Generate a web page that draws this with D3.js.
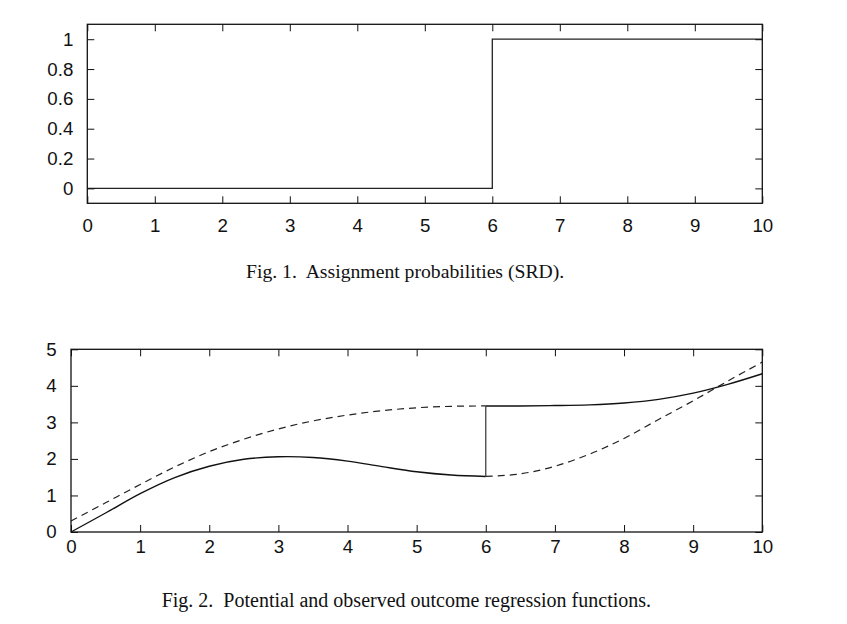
<!DOCTYPE html>
<html>
<head>
<meta charset="utf-8">
<script src="https://cdn.jsdelivr.net/npm/d3@7"></script>
<style>
  html, body { margin: 0; padding: 0; background: #fff; }
  svg { display: block; }
  .tick text { font-family: "Liberation Sans", Arial, sans-serif; font-size: 18.7px; fill: #111; }
  .caption { font-family: "Liberation Serif", "Times New Roman", serif; font-size: 20px; fill: #111; white-space: pre; }
</style>
</head>
<body>
<svg id="chart" width="847" height="624"></svg>
<script>
// ---- Data ----
// Fig. 1: assignment probability (step at x = 6)
const probX = [0, 6, 6, 10];
const probY = [0, 0, 1, 1];

// Fig. 2: potential outcome regression functions
const xLeft  = [0, 0.5, 1, 1.5, 2, 2.5, 3, 3.5, 4, 4.5, 5, 5.5, 6];
const y0Left = [0, 0.52, 1.05, 1.49, 1.80, 1.99, 2.06, 2.04, 1.94, 1.79, 1.65, 1.56, 1.52];
const y1Left = [0.30, 0.80, 1.30, 1.78, 2.20, 2.54, 2.82, 3.04, 3.20, 3.32, 3.40, 3.44, 3.45];
const xRight  = [6, 6.5, 7, 7.5, 8, 8.5, 9, 9.5, 10];
const y0Right = [1.52, 1.59, 1.80, 2.13, 2.56, 3.08, 3.59, 4.13, 4.65];
const y1Right = [3.45, 3.45, 3.46, 3.48, 3.53, 3.63, 3.80, 4.04, 4.33];

const xTicks = [0, 1, 2, 3, 4, 5, 6, 7, 8, 9, 10];
const yTicks1 = [0, 0.2, 0.4, 0.6, 0.8, 1];
const yTickLabels1 = ["0", "0.2", "0.4", "0.6", "0.8", "1"];
const yTicks2 = [0, 1, 2, 3, 4, 5];

const captions = [
  "Fig. 1.  Assignment probabilities (SRD).",
  "Fig. 2.  Potential and observed outcome regression functions."
];

// ---- Drawing ----
const svg = d3.select("#chart");
const TICK = 7;

function framePanel(g, x, y, w, h, yTicks, yFmt, xPad, yPad) {
  g.append("g").attr("transform", `translate(0,${h})`)
    .call(d3.axisBottom(x).tickValues(xTicks).tickSizeInner(-TICK).tickSizeOuter(0).tickPadding(xPad).tickFormat(d3.format("d")))
    .call(a => a.select(".domain").remove());
  g.append("g")
    .call(d3.axisTop(x).tickValues(xTicks).tickSizeInner(-TICK).tickSizeOuter(0).tickFormat(""))
    .call(a => a.select(".domain").remove());
  g.append("g")
    .call(d3.axisLeft(y).tickValues(yTicks).tickSizeInner(-TICK).tickSizeOuter(0).tickPadding(yPad).tickFormat(yFmt))
    .call(a => a.select(".domain").remove());
  g.append("g").attr("transform", `translate(${w},0)`)
    .call(d3.axisRight(y).tickValues(yTicks).tickSizeInner(-TICK).tickSizeOuter(0).tickFormat(""))
    .call(a => a.select(".domain").remove());
  g.selectAll(".tick line").attr("stroke", "#111").attr("stroke-width", 1);
  g.append("rect").attr("x", 0).attr("y", 0).attr("width", w).attr("height", h)
    .attr("fill", "none").attr("stroke", "#111").attr("stroke-width", 1.3);
}

// Panel 1
{
  const m = { left: 87.3, top: 24.3, right: 762.3, bottom: 203.3 };
  const w = m.right - m.left, h = m.bottom - m.top;
  const x = d3.scaleLinear().domain([0, 10]).range([0, w]);
  const y = d3.scaleLinear().domain([-0.1, 1.1]).range([h, 0]);
  const g = svg.append("g").attr("transform", `translate(${m.left},${m.top})`);
  const line = d3.line().x((d, i) => x(probX[i])).y((d, i) => y(probY[i]));
  g.append("path").datum(probX).attr("d", line)
    .attr("fill", "none").attr("stroke", "#222").attr("stroke-width", 1.3);
  framePanel(g, x, y, w, h, yTicks1, (d, i) => yTickLabels1[i], 15, 14);
}

// Panel 2
{
  const m = { left: 71, top: 349.3, right: 762.3, bottom: 532 };
  const w = m.right - m.left, h = m.bottom - m.top;
  const x = d3.scaleLinear().domain([0, 10]).range([0, w]);
  const y = d3.scaleLinear().domain([0, 5]).range([h, 0]);
  const g = svg.append("g").attr("transform", `translate(${m.left},${m.top})`);
  const curve = (xs, ys) => d3.line().curve(d3.curveCatmullRom.alpha(0.5))
    .x((d, i) => x(xs[i])).y((d, i) => y(ys[i]))(xs);

  // dashed: unobserved potential outcomes
  [[xLeft, y1Left], [xRight, y0Right]].forEach(([xs, ys]) => {
    g.append("path").attr("d", curve(xs, ys))
      .attr("fill", "none").attr("stroke", "#222").attr("stroke-width", 1.2)
      .attr("stroke-dasharray", "7,5");
  });
  // solid: observed regression function
  g.append("path").attr("d", curve(xLeft, y0Left))
    .attr("fill", "none").attr("stroke", "#111").attr("stroke-width", 1.4);
  g.append("path").attr("d", curve(xRight, y1Right))
    .attr("fill", "none").attr("stroke", "#111").attr("stroke-width", 1.4);
  g.append("line")
    .attr("x1", x(xLeft[xLeft.length - 1])).attr("x2", x(xRight[0]))
    .attr("y1", y(y0Left[y0Left.length - 1])).attr("y2", y(y1Right[0]))
    .attr("stroke", "#333").attr("stroke-width", 1.2);

  framePanel(g, x, y, w, h, yTicks2, d3.format("d"), 7.3, 14.3);
}

// Captions
svg.append("text").attr("class", "caption").attr("x", 246).attr("y", 278.3)
  .style("font-size", "19.7px").text(captions[0]);
svg.append("text").attr("class", "caption").attr("x", 161.7).attr("y", 606.5).text(captions[1]);
</script>
</body>
</html>
